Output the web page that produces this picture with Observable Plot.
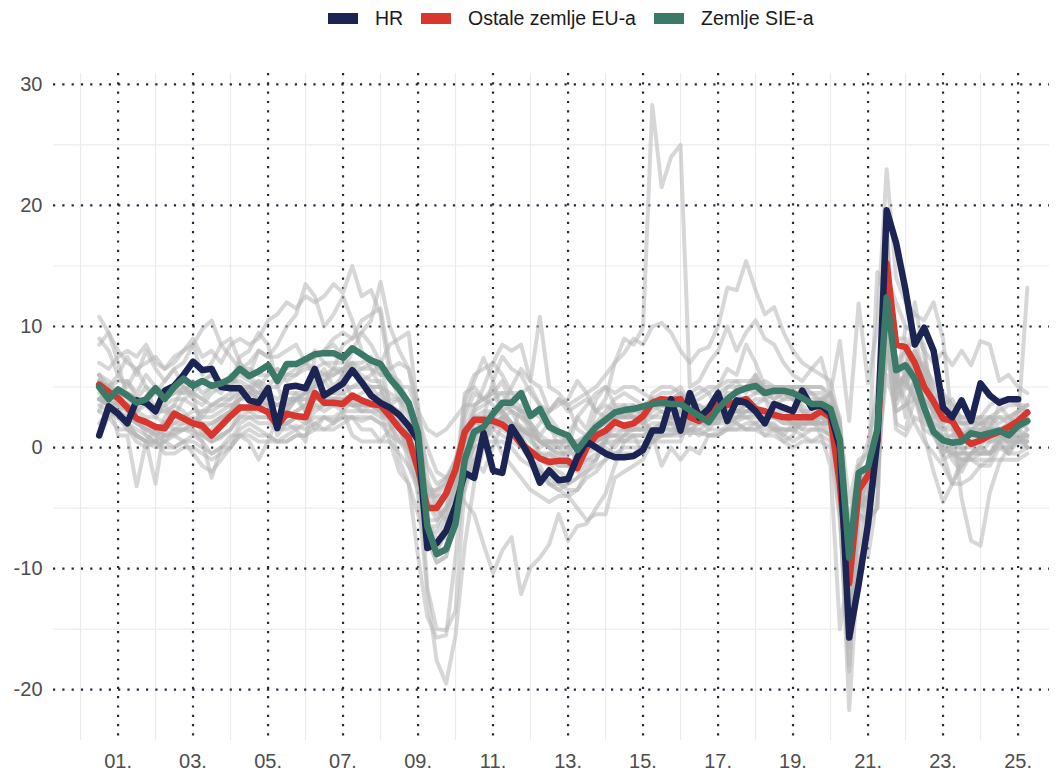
<!DOCTYPE html>
<html><head><meta charset="utf-8">
<script src="https://cdn.jsdelivr.net/npm/d3@7"></script>
<script src="https://cdn.jsdelivr.net/npm/@observablehq/plot@0.6"></script>
<style>
body{margin:0;background:#fff;font-family:"Liberation Sans",Arial,sans-serif;}
#legend{height:36px;position:relative;}
.item{position:absolute;top:0;height:36px;display:flex;align-items:center;font-size:19.5px;color:#1a1a1a;}
.sw{width:30px;height:11px;margin-right:17px;}
</style></head><body>
<div id="legend"></div><div id="chart"></div>
<script>
// Quarterly series, 2000Q2 .. 2025Q1 (100 quarters)
const firstYear = 2000, firstQuarter = 2, nQuarters = 100;
const seriesNames = ["HR", "Ostale zemlje EU-a", "Zemlje SIE-a"];
const seriesColors = ["#1b2452", "#d7372f", "#3b7a69"];

const hr = [1.0, 3.4, 2.8, 2.0, 3.9, 3.7, 3.0, 4.7, 5.1, 6.0,
 7.1, 6.4, 6.5, 5.0, 4.9, 4.9, 3.9, 3.7, 4.9, 1.6,
 5.0, 5.1, 4.9, 6.5, 4.3, 4.8, 5.3, 6.4, 5.4, 4.3,
 3.7, 3.3, 2.7, 1.8, 0.6, -8.3, -7.9, -6.9, -4.8, -2.1,
 -2.5, 1.2, -1.9, -2.1, 1.7, 0.5, -0.9, -2.9, -1.9, -2.7,
 -2.6, -0.8, 0.5, 0.0, -0.5, -0.8, -0.8, -0.7, -0.2, 1.4,
 1.4, 4.0, 1.4, 4.5, 2.5, 3.2, 4.5, 2.2, 3.9, 3.7,
 3.0, 2.0, 3.6, 3.3, 3.0, 4.7, 3.3, 3.5, 2.8, 0.0,
 -15.7, -11.3, -6.3, 0.6, 19.6, 16.9, 13.0, 8.5, 9.9, 8.0,
 3.3, 2.5, 3.9, 2.2, 5.3, 4.3, 3.7, 4.0, 4.0];

const eu = [5.2, 4.6, 4.1, 3.3, 2.4, 2.1, 1.7, 1.6, 2.8, 2.4,
 2.0, 1.8, 1.0, 1.8, 2.6, 3.3, 3.3, 3.3, 2.9, 1.8,
 2.8, 2.6, 2.5, 4.5, 3.7, 3.7, 3.6, 4.3, 3.9, 3.6,
 3.5, 2.6, 1.6, 0.8, -1.8, -5.0, -5.0, -3.8, -1.8, 1.3,
 2.3, 2.3, 2.2, 1.9, 1.3, 0.3, -0.3, -0.9, -1.2, -1.1,
 -1.1, -1.7, 0.0, 1.0, 1.4, 2.1, 1.8, 2.0, 2.6, 3.7,
 4.0, 3.9, 4.0, 2.5, 2.2, 2.8, 3.7, 3.5, 3.8, 4.0,
 3.2, 3.0, 2.7, 2.5, 2.5, 2.5, 2.5, 3.0, 2.5, -3.0,
 -11.2, -3.5, -2.3, 0.5, 15.2, 8.5, 8.3, 7.0, 5.0, 3.8,
 2.4, 2.2, 0.9, 0.3, 0.6, 1.0, 1.3, 1.7, 2.2, 2.9];

const sie = [5.0, 4.0, 4.8, 4.3, 3.7, 4.0, 4.9, 4.0, 5.0, 5.7,
 5.1, 5.5, 5.1, 5.3, 5.7, 6.5, 5.9, 6.3, 6.8, 5.5,
 6.9, 6.9, 7.3, 7.7, 7.8, 7.8, 7.4, 8.2, 7.7, 7.2,
 6.9, 5.7, 4.8, 3.7, 1.2, -6.5, -8.8, -8.4, -6.3, -1.0,
 1.3, 1.7, 2.8, 3.7, 3.7, 4.5, 2.6, 3.2, 1.7, 1.3,
 1.0, -0.2, 0.8, 1.7, 2.3, 2.9, 3.1, 3.2, 3.4, 3.6,
 3.7, 3.6, 3.6, 3.1, 2.6, 2.1, 3.2, 4.0, 4.6, 4.9,
 5.1, 4.5, 4.7, 4.7, 4.5, 4.1, 3.6, 3.6, 3.2, 0.6,
 -9.1, -2.1, -1.6, 1.5, 12.4, 6.4, 6.8, 5.7, 3.3, 1.3,
 0.6, 0.4, 0.5, 1.2, 1.0, 1.2, 1.4, 1.0, 1.8, 2.2];

// Other EU member states (grey background lines), one row per year
const other01 = [10.8, 9.5, 8.0,
 7.0, 6.5, 5.0, 4.5,  5.5, 6.5, 5.0, 4.0,  3.5, 4.5, 5.0, 5.5,  6.0, 5.5, 5.0, 6.0,
 6.5, 5.5, 6.0, 7.0,  6.0, 5.5, 6.5, 6.0,  7.0, 5.5, 4.5, 3.0,  0.5, -2.0, -3.0, -5.5,
 -8.0, -8.5, -7.0, -5.0,  -3.5, -1.0, 1.0, 2.0,  2.5, 3.0, 1.5, 0.5,  0.0, 0.5, 0.0, -1.0,
 -1.5, 0.5, 3.0, 4.0,  7.0, 9.0, 8.5, 9.9,  28.3, 21.5, 24.0, 25.0,  5.0, 5.5, 7.0, 8.0,
 10.0, 8.0, 9.5, 10.5,  9.0, 8.5, 7.0, 6.0,  5.5, 6.5, 7.4, 4.5,  8.8, 2.2, 11.9, 5.3,
 10.0, 23.0, 14.0, 12.0,  11.0, 10.5, 12.0, 9.0,  2.0, -4.2, -7.7, -8.1,  -3.7, -1.3, 0.0, 2.0,
 13.2];
const other02 = [6.0, 4.0, 1.0,
 1.0, -3.2, 0.5, -3.0,  2.0, 3.0, 2.5, 1.5,  0.5, -2.5, 0.0, 1.0,  1.0, 0.5, -1.0, 0.5,
 2.5, 3.5, 4.0, 3.0,  1.5, 2.5, 2.0, 3.0,  4.0, 4.5, 5.0, 4.0,  3.5, 4.0, 3.0, 1.5,
 -1.5, -3.0, -2.5, -1.0,  1.5, 3.5, 4.0, 5.0,  2.5, 1.0, 1.5, 1.0,  2.0, 3.0, 3.5, 4.0,
 5.5, 4.5, 5.0, 6.0,  7.0, 7.8, 9.0, 8.5,  10.0, 10.3, 9.5, 8.0,  7.0, 8.0, 8.3, 10.0,
 13.2, 13.0, 15.4, 13.0,  11.0, 11.6, 9.5, 8.0,  7.0, 6.5, 6.0, 5.5,  2.0, -14.0, -9.0, -5.0,
 1.0, 14.0, 12.0, 10.0,  9.5, 8.0, 7.0, 7.9,  6.8, 8.0, 6.8, 8.8,  8.5, 5.5, 6.0, 5.0,
 4.5];
const other03 = [7.0, 6.5, 7.5,
 8.0, 7.5, 8.5, 7.0,  6.5, 7.5, 8.0, 9.0,  7.5, 8.0, 7.0, 8.5,  9.0, 8.5, 9.0, 10.5,
 11.0, 12.0, 11.5, 12.5,  12.0, 12.5, 13.5, 12.8,  15.0, 12.5, 13.0, 11.0,  6.0, 4.0, 0.5, -4.0,
 -12.0, -17.6, -19.5, -15.5,  -8.0, -3.0, 0.0, 2.5,  3.5, 5.0, 6.5, 5.5,  10.8, 5.0, 4.5, 3.5,
 4.0, 4.5, 3.0, 2.5,  2.5, 3.0, 2.5, 2.0,  2.5, 3.0, 2.5, 3.0,  2.0, 2.5, 1.5, 2.5,
 4.0, 4.5, 5.0, 4.5,  4.5, 4.0, 4.5, 5.0,  3.0, 2.0, 2.5, 2.0,  -1.0, -8.0, -3.0, -1.5,
 1.0, 11.0, 6.0, 5.0,  7.0, 3.5, 1.5, -1.0,  -0.5, -1.5, -0.5, 0.0,  -0.5, 0.5, -0.5, 0.5,
 1.0];
const other04 = [9.0, 8.0, 6.0,
 5.0, 6.5, 7.0, 7.5,  6.5, 7.0, 8.0, 8.5,  6.0, 7.0, 8.5, 7.5,  6.5, 7.0, 8.0, 7.5,
 8.5, 10.0, 11.0, 13.5,  12.5, 10.0, 11.0, 12.5,  10.5, 8.0, 6.5, 5.0,  2.0, -1.0, -3.0, -9.0,
 -14.0, -15.7, -15.5, -9.0,  -2.0, 3.0, 5.0, 7.0,  8.5, 8.0, 8.5, 5.5,  5.0, 3.0, 4.0, 3.5,
 1.5, 1.0, 1.5, 2.0,  3.0, 2.5, 3.5, 2.5,  1.0, 1.5, 2.0, 1.0,  1.5, 2.0, 3.5, 4.5,
 5.0, 5.5, 4.5, 6.0,  4.5, 4.0, 4.5, 4.0,  4.5, 3.5, 4.0, 3.5,  -0.5, -6.5, -2.0, 0.5,
 4.0, 12.5, 9.0, 9.0,  5.0, 1.0, -2.0, -4.5,  -3.0, -3.0, -2.5, -1.5,  -1.0, 0.5, -0.5, 1.0,
 0.0];
const other05 = [3.0, 5.0, 6.0,
 7.5, 6.0, 8.0, 6.5,  5.5, 6.5, 7.0, 8.5,  9.8, 10.5, 8.5, 9.0,  7.0, 6.0, 8.0, 7.5,
 7.5, 8.0, 8.5, 7.0,  8.0, 7.0, 6.5, 8.5,  9.0, 10.5, 11.0, 11.5,  7.0, 5.0, 3.5, 0.0,
 -11.6, -15.0, -15.1, -13.5,  -3.0, 0.5, 2.5, 5.5,  7.5, 6.5, 6.0, 4.5,  3.5, 3.0, 4.0, 3.0,
 3.5, 4.0, 3.0, 3.5,  3.0, 3.5, 2.5, 2.0,  1.5, 2.0, 2.5, 2.0,  2.5, 2.0, 2.5, 3.0,
 4.0, 4.5, 3.5, 4.0,  4.0, 3.5, 4.0, 4.5,  4.0, 4.5, 4.0, 4.5,  2.0, -4.5, -1.0, -0.5,
 1.5, 8.0, 5.0, 5.5,  4.0, 2.5, 1.0, -0.5,  -3.0, -1.5, -0.5, 0.0,  2.0, 2.5, 2.0, 3.0,
 3.5];
const other06 = [4.0, 5.0, 3.5,
 4.5, 4.0, 5.0, 3.0,  3.5, 2.5, 4.0, 4.5,  5.5, 6.0, 5.0, 6.0,  5.0, 4.5, 5.5, 4.0,
 1.0, 2.0, 1.5, 0.5,  5.5, 6.5, 5.0, 6.0,  4.0, 3.0, 3.5, 3.0,  2.5, 1.5, 0.0, -2.0,
 -3.5, -4.4, -4.0, -3.0,  -4.5, -5.5, -8.0, -10.4,  -8.5, -7.4, -12.1, -9.9,  -9.1, -8.0, -5.5, -7.7,
 -6.5, -6.3, -5.0, -3.8,  -1.5, 0.5, 1.0, -0.5,  1.0, -1.5, 0.0, -1.0,  0.0, -0.5, 1.0, 1.0,
 1.5, 2.0, 1.5, 1.5,  2.0, 1.5, 1.0, 2.0,  1.5, 2.5, 1.0, -1.5,  -15.0, -10.0, -8.0, -2.0,
 14.5, 12.0, 7.0, 8.0,  6.5, 4.0, 3.0, 2.0,  2.5, 2.0, 2.0, 2.0,  2.5, 2.0, 2.5, 2.0,
 2.0];
const other07 = [5.5, 5.0, 4.5,
 4.5, 4.0, 3.5, 3.0,  3.0, 2.5, 2.5, 3.0,  3.0, 3.0, 3.5, 3.5,  3.5, 3.0, 3.5, 3.5,
 3.5, 3.5, 4.0, 4.0,  4.0, 4.0, 4.0, 4.0,  4.0, 3.5, 3.5, 3.0,  2.5, 1.5, 0.0, -1.5,
 -3.0, -4.0, -4.0, -3.0,  -1.5, 0.0, 0.5, 0.5,  0.5, 0.0, -1.0, -1.5,  -2.0, -2.5, -3.0, -3.5,
 -3.5, -2.5, -2.0, -1.0,  0.5, 1.0, 2.0, 2.5,  3.0, 3.5, 4.0, 4.0,  3.5, 3.5, 3.0, 3.0,
 3.0, 3.0, 3.0, 3.0,  2.5, 2.5, 2.5, 2.0,  2.0, 2.0, 2.0, 1.5,  -4.5, -21.7, -9.0, -9.0,
 -4.0, 17.5, 4.0, 5.5,  6.5, 7.0, 5.0, 3.5,  4.0, 2.0, 2.0, 2.5,  2.5, 3.0, 3.5, 3.5,
 3.0];
const other08 = [4.0, 3.5, 3.0,
 2.5, 2.0, 1.5, 1.0,  0.5, 0.0, 0.5, 1.0,  0.5, -0.5, 0.0, 0.0,  1.0, 1.5, 1.0, 1.0,
 0.5, 0.5, 1.0, 1.0,  2.0, 1.5, 2.0, 2.5,  2.5, 1.5, 1.5, 0.5,  0.5, -0.5, -1.5, -3.0,
 -6.5, -7.0, -5.5, -3.5,  1.0, 2.0, 2.0, 2.0,  1.5, 1.0, 0.5, -1.0,  -2.0, -3.0, -3.0, -3.0,
 -2.5, -2.0, -1.5, -1.0,  -0.5, 0.0, 0.0, 0.0,  0.5, 1.0, 1.0, 1.0,  1.5, 1.0, 1.5, 1.5,
 1.5, 1.5, 1.5, 1.5,  1.0, 1.0, 0.5, 0.0,  0.5, 0.5, 0.5, 0.0,  -6.0, -18.0, -5.5, -6.5,
 0.0, 17.0, 4.0, 6.5,  6.0, 5.0, 3.0, 1.5,  2.0, 0.5, 0.5, 0.5,  0.5, 1.0, 0.5, 0.5,
 0.5];
const other09 = [3.0, 2.5, 1.5,
 1.5, 0.5, 0.0, 0.5,  -0.5, -0.5, 0.0, 0.0,  -0.5, -1.0, -0.5, 0.0,  1.0, 1.0, 0.5, 0.5,
 0.5, 1.0, 1.5, 2.0,  3.0, 3.5, 4.0, 4.0,  3.5, 3.0, 3.0, 2.5,  2.5, 2.0, 1.0, -1.5,
 -6.5, -6.5, -5.0, -2.5,  2.5, 4.5, 4.0, 4.5,  5.5, 3.5, 3.0, 2.0,  0.5, 0.5, 0.5, 0.0,
 -1.0, 0.0, 0.5, 1.0,  2.5, 1.5, 1.5, 1.5,  1.0, 1.5, 1.5, 1.5,  2.0, 2.0, 2.0, 2.0,
 2.0, 2.5, 3.0, 3.0,  2.0, 2.0, 1.0, 0.5,  1.0, 0.5, 1.0, 0.5,  -2.0, -11.5, -4.0, -3.0,
 -3.0, 10.0, 2.0, 1.5,  4.0, 1.5, 1.0, 0.5,  0.0, 0.0, 0.0, -0.5,  -0.5, 0.0, -0.5, -0.5,
 0.0];
const other10 = [5.0, 3.5, 2.5,
 2.0, 1.0, 0.5, 0.5,  0.5, 1.0, 1.5, 2.0,  2.5, 3.5, 4.0, 4.5,  7.0, 6.0, 5.0, 4.0,
 2.5, 3.0, 4.0, 4.5,  5.5, 6.0, 6.5, 6.5,  7.0, 6.5, 6.5, 6.0,  6.0, 5.0, 5.0, 3.0,
 1.5, 1.0, 1.5, 2.5,  3.5, 3.5, 4.0, 4.5,  4.5, 4.5, 4.5, 5.0,  3.5, 2.5, 1.5, 0.5,
 0.5, 1.0, 2.0, 2.5,  3.5, 3.5, 3.5, 3.0,  4.0, 3.5, 4.0, 4.5,  3.0, 3.0, 2.5, 3.0,
 4.5, 4.5, 5.0, 5.0,  5.5, 5.0, 5.0, 5.0,  5.0, 4.5, 4.5, 3.5,  1.5, -8.0, -1.5, -2.5,
 -1.0, 11.0, 6.0, 8.0,  9.0, 6.0, 4.0, 2.0,  -0.5, -0.5, 0.5, 1.5,  1.5, 3.5, 2.5, 3.0,
 3.5];
const other11 = [2.0, 3.0, 4.0,
 5.5, 4.5, 6.0, 5.0,  4.0, 5.0, 4.5, 5.5,  4.5, 5.0, 5.5, 5.0,  7.5, 8.0, 9.5, 8.5,
 5.0, 3.5, 4.5, 3.0,  7.5, 8.0, 8.5, 7.5,  6.5, 5.5, 6.0, 7.0,  8.5, 9.0, 9.5, 3.0,
 -6.0, -8.5, -7.0, -6.5,  -3.0, -1.0, -2.0, 0.0,  2.0, 1.0, 3.5, 2.0,  1.0, 2.0, 0.0, 1.0,
 2.5, 1.5, 4.0, 5.0,  3.5, 2.5, 3.0, 3.5,  4.0, 3.5, 3.5, 4.0,  4.5, 5.0, 4.5, 5.0,
 6.5, 6.0, 8.5, 7.0,  5.0, 4.5, 4.5, 4.0,  5.0, 4.5, 3.5, 4.5,  2.5, -10.0, -5.5, -2.0,
 -0.5, 13.5, 7.0, 2.5,  6.0, 5.0, 4.0, 4.5,  2.5, 2.0, 2.0, 2.5,  0.5, 1.0, 1.0, 0.5,
 0.5];
const other12 = [1.0, 2.5, 3.0,
 3.5, 3.0, 4.0, 4.5,  4.0, 4.5, 5.0, 4.5,  4.0, 5.0, 4.5, 5.5,  5.5, 5.0, 5.5, 5.0,
 5.0, 6.0, 6.5, 7.0,  7.5, 8.0, 9.0, 9.5,  9.0, 9.5, 10.5, 13.7,  10.0, 8.0, 6.5, 2.5,
 -4.5, -6.0, -5.0, -4.0,  4.5, 5.0, 4.0, 3.5,  3.0, 3.5, 3.0, 3.0,  2.5, 1.5, 1.0, 0.5,
 0.5, 0.5, 1.0, 1.5,  2.5, 2.5, 2.5, 2.5,  3.5, 4.0, 4.0, 4.5,  3.5, 3.5, 3.0, 2.5,
 3.0, 3.0, 3.5, 3.5,  4.0, 4.5, 4.5, 4.0,  3.0, 2.5, 2.0, 2.0,  -3.0, -12.5, -2.0, -1.5,
 0.5, 9.5, 1.5, 1.0,  2.5, 2.0, 1.5, 1.0,  1.0, 1.5, 1.5, 1.5,  2.5, 1.5, 1.5, 1.5,
 1.0];
const other13 = [4.0, 4.5, 3.5,
 3.5, 3.0, 2.5, 2.5,  3.5, 4.0, 4.0, 3.5,  2.5, 2.5, 3.0, 3.5,  4.0, 4.5, 4.5, 4.0,
 3.5, 4.0, 4.0, 4.5,  5.0, 5.5, 6.0, 6.5,  7.0, 7.0, 7.5, 6.0,  6.0, 5.5, 3.5, 0.0,
 -7.5, -9.5, -9.0, -6.0,  -1.0, 1.0, 1.5, 2.0,  2.0, 1.0, 0.5, -1.0,  -1.5, -3.0, -3.5, -3.0,
 -2.5, -1.5, -1.0, 0.5,  2.5, 3.0, 3.0, 3.0,  2.5, 2.5, 2.0, 3.0,  2.5, 3.0, 3.5, 3.5,
 5.0, 5.0, 5.0, 6.0,  4.5, 4.5, 4.0, 4.0,  3.5, 2.5, 2.5, 2.0,  -2.5, -13.5, -4.0, -4.5,
 2.0, 16.0, 5.0, 10.0,  9.5, 8.5, 2.5, -0.5,  0.5, 1.0, 1.5, 2.0,  2.0, 1.0, 1.0, 1.5,
 0.0];
const other14 = [6.0, 5.0, 5.5,
 5.5, 4.0, 3.5, 5.0,  4.5, 5.0, 5.5, 5.0,  5.5, 6.0, 5.5, 5.5,  6.5, 6.5, 6.0, 6.0,
 6.5, 6.0, 6.0, 6.5,  6.5, 6.0, 6.0, 6.5,  6.0, 6.5, 7.0, 6.5,  6.5, 7.0, 6.5, 3.5,
 -2.5, -5.0, -6.0, -5.0,  -2.0, 0.0, 0.5, 1.5,  2.5, 2.0, 1.5, 1.5,  0.5, 0.5, 0.5, 0.5,
 0.0, 0.5, 0.5, 1.0,  1.5, 1.5, 1.5, 2.0,  3.5, 3.5, 3.5, 3.5,  3.0, 3.0, 3.0, 3.0,
 3.5, 3.5, 3.5, 3.0,  3.0, 3.0, 3.0, 3.0,  4.0, 4.0, 4.0, 3.5,  2.0, -8.5, -5.0, -4.0,
 -1.5, 8.0, 5.0, 6.0,  4.0, 4.0, 3.0, 3.0,  2.0, 2.0, 1.5, 2.0,  2.5, 2.5, 2.5, 3.0,
 3.0];
const other15 = [8.5, 9.5, 7.0,
 4.0, 2.5, 1.0, 0.5,  2.5, 3.5, 5.0, 4.5,  1.0, 1.5, 2.5, 3.0,  4.5, 5.0, 4.0, 3.5,
 2.5, 3.0, 4.0, 4.5,  5.0, 5.5, 4.5, 6.0,  8.0, 9.5, 8.5, 7.0,  3.5, 2.5, -1.5, -3.5,
 -7.5, -8.0, -6.0, -3.0,  3.0, 5.5, 7.4, 5.5,  3.0, 2.0, 1.0, -0.5,  -0.5, -0.5, -1.0, 0.0,
 2.5, 3.5, 4.5, 5.0,  4.5, 5.0, 5.0, 4.5,  4.0, 3.5, 3.0, 3.0,  3.5, 4.0, 4.5, 3.0,
 2.5, 2.0, 1.5, 2.0,  1.0, 1.5, 0.5, 1.0,  2.5, 2.0, 3.0, 2.5,  -1.0, -8.0, -1.5, -0.5,
 5.0, 12.5, 5.5, 4.0,  2.0, 0.5, -0.5, -1.5,  -3.0, -1.0, -1.0, -0.5,  -0.5, 1.0, 0.5, 0.5,
 1.5];
const other16 = [4.0, 3.5, 3.0,
 2.5, 2.0, 1.5, 1.5,  1.0, 1.0, 0.5, -0.5,  -1.5, -2.0, -1.0, 0.0,  1.5, 2.0, 1.5, 1.0,
 0.5, 0.5, 1.0, 1.0,  1.5, 1.5, 1.5, 2.0,  2.5, 2.5, 2.5, 2.0,  1.0, 0.5, 0.0, -2.0,
 -4.0, -3.5, -2.5, -1.5,  1.5, 1.5, 1.5, 1.0,  -0.5, -1.5, -2.5, -3.5,  -4.0, -4.5, -4.0, -4.0,
 -3.5, -2.0, -1.0, 1.0,  1.0, 1.0, 1.0, 1.0,  1.5, 2.0, 2.0, 1.5,  1.5, 1.5, 2.0, 2.5,
 3.0, 3.0, 2.5, 2.5,  2.5, 2.5, 2.0, 2.0,  2.5, 2.5, 2.0, 2.5,  -2.0, -16.5, -5.5, -6.0,
 -5.0, 16.0, 4.5, 6.0,  12.0, 7.5, 4.5, 3.0,  2.5, 2.5, 2.0, 2.0,  1.5, 1.5, 2.0, 2.5,
 1.5];
const other17 = [5.5, 5.0, 4.5,
 4.5, 4.0, 3.5, 3.5,  4.0, 4.5, 4.5, 4.5,  4.0, 3.5, 3.5, 4.0,  5.0, 5.0, 4.5, 4.5,
 4.0, 4.5, 4.5, 4.5,  4.5, 4.0, 3.5, 3.0,  1.0, 0.5, 0.5, 0.5,  1.5, 2.0, 1.0, -2.0,
 -6.5, -7.5, -7.5, -5.0,  -0.5, 0.5, 1.0, 2.5,  2.0, 1.5, 1.5, 1.0,  -1.0, -1.5, -2.0, -2.5,
 0.0, 1.0, 2.0, 3.0,  4.0, 4.5, 4.0, 3.5,  3.5, 3.0, 2.5, 3.5,  1.0, 2.5, 2.0, 2.0,
 4.0, 3.5, 4.0, 4.5,  5.0, 5.0, 5.0, 5.0,  5.0, 5.0, 5.0, 4.0,  2.0, -13.5, -4.5, -3.0,
 -1.5, 17.5, 6.0, 7.0,  8.0, 6.0, 4.0, 0.5,  -1.0, -2.0, -0.5, 0.5,  1.5, 1.5, 0.0, 0.5,
 0.0];
const other18 = [4.0, 4.5, 4.0,
 3.5, 3.0, 3.5, 2.5,  2.0, 1.5, 1.5, 2.0,  3.0, 3.5, 4.0, 4.0,  4.5, 5.0, 4.5, 5.0,
 6.0, 6.5, 7.0, 7.0,  6.5, 7.0, 7.0, 7.0,  6.5, 6.0, 5.5, 5.5,  4.0, 4.0, 2.5, 0.5,
 -4.5, -5.5, -5.0, -3.5,  1.0, 2.5, 3.0, 3.0,  3.0, 2.0, 1.5, 1.0,  -0.5, -1.0, -1.5, -1.5,
 -2.0, -1.0, -1.0, 0.5,  2.5, 2.5, 2.5, 2.0,  4.5, 5.0, 5.0, 4.5,  3.0, 2.5, 2.0, 2.0,
 3.5, 5.0, 5.0, 5.5,  4.0, 2.5, 2.5, 3.0,  3.0, 3.0, 2.5, 2.0,  -1.5, -10.5, -5.0, -4.5,
 -2.5, 8.0, 3.0, 3.5,  5.5, 3.5, 1.5, 0.0,  -0.5, -0.5, -0.5, -0.5,  0.5, 0.5, 1.5, 1.5,
 2.0];
const other19 = [4.0, 3.8, 3.5,
 3.0, 2.2, 1.8, 1.2,  1.0, 1.2, 1.5, 1.2,  1.0, 0.5, 0.8, 1.5,  2.5, 3.0, 2.5, 2.5,
 1.5, 1.5, 1.8, 1.5,  2.0, 2.5, 2.2, 2.5,  2.5, 2.2, 2.5, 2.0,  1.8, 0.8, 0.0, -1.5,
 -3.5, -3.5, -3.0, -1.0,  1.5, 2.0, 2.0, 2.0,  2.5, 2.0, 1.8, 1.2,  0.5, 0.2, 0.0, 0.0,
 0.0, 0.8, 0.6, 0.8,  1.0, 0.5, 1.0, 1.0,  1.2, 1.0, 1.2, 1.2,  1.2, 1.2, 1.0, 1.2,
 1.8, 2.2, 2.5, 2.8,  2.2, 1.8, 1.5, 1.4,  2.0, 2.0, 1.8, 1.0,  -5.5, -18.5, -3.5, -4.5,
 1.5, 19.0, 3.5, 5.0,  4.5, 4.0, 1.0, 0.5,  1.0, 1.2, 1.0, 1.2,  1.5, 1.0, 1.2, 0.8,
 0.8];
const other20 = [4.5, 4.0, 3.0,
 2.0, 1.5, 1.0, 0.5,  0.0, 0.0, 0.5, 0.5,  0.0, -0.5, 0.0, 0.5,  2.0, 2.5, 2.0, 2.0,
 1.5, 2.0, 2.5, 2.5,  3.5, 3.0, 3.5, 4.0,  3.5, 3.5, 4.0, 4.5,  3.5, 3.0, 1.5, -0.5,
 -4.0, -5.0, -4.0, -2.0,  0.5, 1.5, 2.0, 2.0,  2.5, 1.5, 1.0, -0.5,  -1.0, -0.5, -1.5, -1.5,
 -1.5, -0.5, 0.0, 0.5,  0.0, 1.0, 1.5, 1.5,  2.0, 2.0, 2.0, 2.0,  2.0, 2.5, 2.5, 2.5,
 2.5, 3.0, 3.0, 3.0,  3.0, 2.5, 2.5, 2.0,  2.0, 2.0, 2.0, 2.0,  0.0, -9.0, -2.5, -2.5,
 -2.5, 10.0, 5.0, 6.0,  6.0, 5.0, 3.0, 3.0,  2.0, -0.5, -0.5, 0.0,  -0.5, 0.5, 0.5, 1.5,
 2.0];
const other21 = [3.5, 3.0, 2.5,
 1.5, 1.0, 0.5, 0.5,  1.0, 1.5, 1.5, 1.5,  1.0, 0.5, 1.0, 1.5,  2.5, 2.5, 2.5, 2.5,
 2.0, 2.0, 2.5, 2.5,  3.5, 3.5, 3.5, 3.5,  3.5, 3.5, 3.5, 3.0,  2.5, 1.5, 1.0, -1.0,
 -5.0, -5.0, -4.0, -2.5,  0.5, 2.0, 2.5, 3.0,  3.5, 3.0, 2.5, 2.0,  1.0, 0.5, 0.5, 0.5,
 0.0, 0.0, 0.0, 0.5,  0.5, 0.5, 0.5, 0.5,  0.5, 1.0, 1.0, 1.5,  2.0, 2.0, 2.0, 2.5,
 2.5, 2.5, 3.0, 3.0,  3.0, 2.5, 2.5, 2.0,  1.5, 1.5, 1.5, 1.0,  -3.0, -13.0, -4.0, -6.0,
 -5.0, 13.0, 5.0, 6.0,  8.0, 6.5, 2.5, 2.5,  2.0, 0.0, -1.0, -1.0,  -1.0, -1.0, -1.0, -1.0,
 -0.5];
const other22 = [4.0, 3.5, 3.0,
 2.0, 1.0, 0.5, 0.0,  0.5, 1.5, 2.0, 2.0,  1.5, 0.5, 1.0, 1.5,  3.0, 3.5, 3.0, 3.0,
 2.0, 2.0, 2.5, 2.0,  2.5, 2.5, 2.5, 3.0,  3.0, 3.0, 3.0, 3.0,  2.5, 1.5, 1.0, -1.0,
 -4.0, -4.0, -3.0, -1.0,  1.5, 2.5, 2.5, 2.5,  3.0, 2.0, 1.5, 1.0,  0.5, 0.0, -0.5, -0.5,
 -0.5, 0.0, 0.5, 1.0,  1.0, 1.5, 1.5, 1.5,  1.5, 1.5, 1.5, 1.5,  1.5, 1.5, 1.0, 1.0,
 1.5, 1.5, 2.0, 2.0,  1.5, 1.5, 1.5, 1.5,  2.0, 2.0, 2.0, 2.0,  -2.0, -14.0, -4.5, -4.0,
 -0.5, 15.5, 5.0, 6.0,  5.5, 3.5, 2.0, 1.5,  1.5, 1.0, 1.5, 1.5,  1.5, 1.0, 1.0, 1.0,
 1.0];
const other23 = [5.5, 5.0, 4.5,
 3.0, 2.0, 1.5, 1.0,  1.5, 2.0, 2.0, 2.5,  2.0, 1.0, 2.0, 3.0,  4.0, 4.0, 3.5, 3.0,
 2.5, 2.5, 3.0, 3.5,  4.0, 4.5, 4.5, 4.5,  5.0, 5.5, 5.0, 5.0,  3.5, 2.0, 0.5, -2.0,
 -7.5, -9.5, -9.0, -6.0,  1.0, 3.0, 3.5, 4.0,  4.5, 3.0, 2.5, 1.5,  0.5, 0.0, -1.0, -1.5,
 -1.5, -1.0, -0.5, 0.0,  -0.5, -0.5, -0.5, 0.0,  0.5, 0.5, 0.5, 0.5,  2.5, 2.5, 2.5, 2.5,
 3.0, 3.0, 3.5, 3.0,  2.0, 1.5, 1.5, 1.5,  1.0, 1.5, 1.5, 1.0,  -1.5, -6.0, -2.0, -1.5,
 -1.0, 6.0, 3.0, 3.5,  4.0, 2.5, 1.5, 0.0,  -0.5, -1.0, -1.0, -1.5,  -1.5, 0.0, 0.0, 0.5,
 0.5];
const other24 = [4.0, 3.5, 3.0,
 1.5, 1.0, 0.5, 1.5,  2.0, 2.0, 2.5, 2.0,  1.5, 2.0, 2.5, 3.0,  4.0, 4.5, 4.0, 3.5,
 2.5, 2.5, 3.0, 3.5,  4.5, 4.5, 4.0, 4.5,  3.5, 3.5, 3.5, 3.0,  2.0, 0.5, -0.5, -3.0,
 -6.0, -6.0, -5.0, -2.0,  4.0, 6.0, 6.5, 7.0,  6.0, 4.5, 3.0, 1.5,  0.5, 0.0, -0.5, -0.5,
 0.5, 1.0, 1.5, 2.0,  2.5, 2.5, 2.5, 3.0,  4.0, 4.5, 4.5, 5.0,  3.5, 2.5, 2.0, 2.5,
 2.0, 2.5, 2.5, 2.0,  2.5, 2.5, 2.0, 2.0,  2.0, 2.0, 2.0, 2.0,  0.5, -7.5, -2.0, -2.0,
 0.0, 10.0, 5.0, 5.5,  4.0, 3.5, 1.5, -0.5,  0.0, -1.0, -0.5, -0.5,  -0.5, 0.5, 1.0, 2.0,
 2.5];
const other25 = [6.0, 5.5, 4.5,
 4.5, 4.0, 3.5, 3.0,  3.0, 3.5, 3.0, 2.0,  2.0, 2.0, 2.5, 2.5,  4.0, 4.5, 4.0, 4.0,
 3.5, 4.0, 4.0, 4.0,  4.5, 4.5, 4.5, 5.0,  5.0, 5.0, 5.0, 5.0,  4.5, 4.0, 3.5, 2.5,
 0.0, -2.0, -2.5, -2.0,  0.5, 1.0, 1.5, 1.5,  1.0, 0.5, 0.0, -1.0,  -2.0, -3.0, -3.5, -4.0,
 -5.0, -6.0, -5.5, -5.5,  -2.5, -2.0, -1.5, -1.0,  0.5, 1.5, 2.5, 3.0,  4.0, 4.5, 5.0, 5.0,
 5.5, 5.5, 5.5, 5.5,  5.0, 5.0, 5.0, 5.0,  5.0, 5.0, 5.0, 4.5,  0.5, -13.0, -4.5, -5.0,
 -1.0, 14.0, 7.0, 6.0,  7.5, 6.5, 5.5, 4.5,  3.5, 2.5, 2.5, 2.5,  3.5, 4.0, 4.0, 3.5,
 3.5];

const otherSeries = [other01, other02, other03, other04, other05, other06, other07, other08, other09,
  other10, other11, other12, other13, other14, other15, other16, other17, other18, other19,
  other20, other21, other22, other23, other24, other25];

const yTicks = [-20, -10, 0, 10, 20, 30];
const yMinor = [-15, -5, 5, 15, 25];
const xTickYears = [2001, 2003, 2005, 2007, 2009, 2011, 2013, 2015, 2017, 2019, 2021, 2023, 2025];
const xTickLabels = ["01.", "03.", "05.", "07.", "09.", "11.", "13.", "15.", "17.", "19.", "21.", "23.", "25."];
const xMinorYears = [2000, 2002, 2004, 2006, 2008, 2010, 2012, 2014, 2016, 2018, 2020, 2022, 2024];

// quarter end dates
const qDate = i => new Date(Date.UTC(firstYear, 3 * (firstQuarter - 1) + 3 + 3 * i, 1));
const toRows = (arr, name) => arr.map((v, i) => ({series: name, date: qDate(i), value: v}));

const greyRows = otherSeries.flatMap((s, k) => toRows(s, "g" + k));
const hlRows = [toRows(hr, seriesNames[0]), toRows(eu, seriesNames[1]), toRows(sie, seriesNames[2])];
const yearDate = y => new Date(Date.UTC(y, 0, 1));

// legend
const legend = document.getElementById("legend");
const legendX = [328, 421, 654];
seriesNames.forEach((n, k) => {
  const d = document.createElement("div");
  d.className = "item";
  d.style.left = legendX[k] + "px";
  d.innerHTML = `<span class="sw" style="background:${seriesColors[k]}"></span><span>${n}</span>`;
  legend.appendChild(d);
});

const dotStyle = {stroke: "#232b3b", strokeWidth: 2.2, strokeDasharray: "2.2,7.1"};
const chart = Plot.plot({
  width: 1056, height: 735,
  marginLeft: 53, marginRight: 7, marginTop: 37, marginBottom: 31,
  style: {fontFamily: "'Liberation Sans', Arial, sans-serif", color: "#4d4d4d", background: "#fff"},
  x: {type: "utc", domain: [new Date(Date.UTC(1999, 3, 13)), new Date(Date.UTC(2025, 10, 3))], axis: null},
  y: {domain: [-24.2, 30.9], axis: null},
  marks: [
    Plot.ruleY(yMinor, {stroke: "#ebebeb", strokeWidth: 1.1}),
    Plot.ruleX(xMinorYears.map(yearDate), {stroke: "#ebebeb", strokeWidth: 1.1}),
    Plot.ruleY(yTicks, dotStyle),
    Plot.ruleX(xTickYears.map(yearDate), dotStyle),
    Plot.line(greyRows, {x: "date", y: "value", z: "series", stroke: "#b7b7b7", strokeOpacity: 0.55, strokeWidth: 4, strokeLinejoin: "round"}),
    Plot.line(hlRows[1], {x: "date", y: "value", stroke: seriesColors[1], strokeWidth: 6.5, strokeLinejoin: "round"}),
    Plot.line(hlRows[0], {x: "date", y: "value", stroke: seriesColors[0], strokeWidth: 6.5, strokeLinejoin: "round"}),
    Plot.line(hlRows[2], {x: "date", y: "value", stroke: seriesColors[2], strokeWidth: 6.5, strokeLinejoin: "round"}),
    Plot.axisY(yTicks, {label: null, tickSize: 0, tickPadding: 11, fontSize: 20, tickFormat: d => String(d)}),
    Plot.axisX(xTickYears.map(yearDate), {label: null, tickSize: 0, tickPadding: 13, fontSize: 20,
      tickFormat: d => xTickLabels[xTickYears.indexOf(d.getUTCFullYear())]})
  ]
});
document.getElementById("chart").appendChild(chart);
</script>
</body></html>
